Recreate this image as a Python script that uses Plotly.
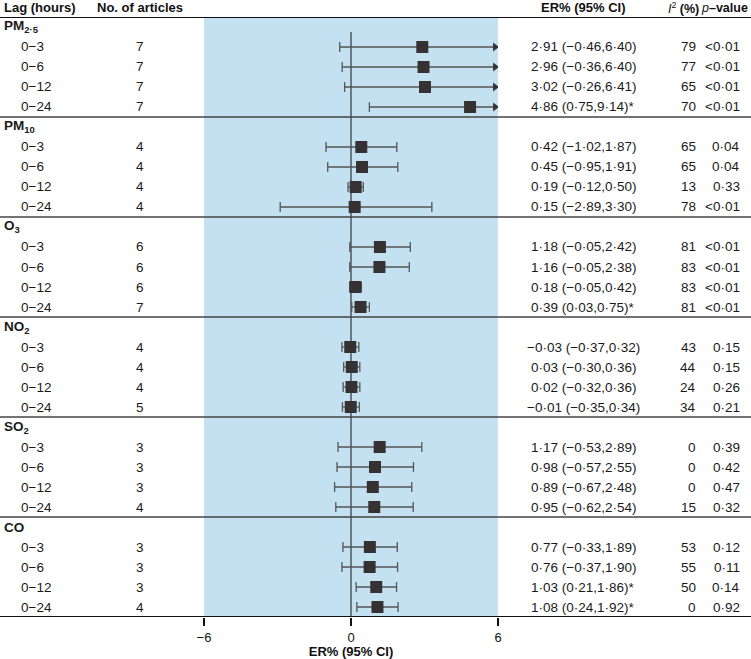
import plotly.graph_objects as go

# Data
pollutants = ['PM<sub>2·5</sub>', 'PM<sub>10</sub>', 'O<sub>3</sub>', 'NO<sub>2</sub>', 'SO<sub>2</sub>', 'CO']
lags = ['0\u22123', '0\u22126', '0\u221212', '0\u221224']

n_articles = [[7, 7, 7, 7], [4, 4, 4, 4], [6, 6, 6, 7], [4, 4, 4, 5], [3, 3, 3, 4], [3, 3, 3, 4]]
er = [[2.91, 2.96, 3.02, 4.86], [0.42, 0.45, 0.19, 0.15], [1.18, 1.16, 0.18, 0.39],
      [-0.03, 0.03, 0.02, -0.01], [1.17, 0.98, 0.89, 0.95], [0.77, 0.76, 1.03, 1.08]]
ci_low = [[-0.46, -0.36, -0.26, 0.75], [-1.02, -0.95, -0.12, -2.89], [-0.05, -0.05, -0.05, 0.03],
          [-0.37, -0.30, -0.32, -0.35], [-0.53, -0.57, -0.67, -0.62], [-0.33, -0.37, 0.21, 0.24]]
ci_high = [[6.40, 6.40, 6.41, 9.14], [1.87, 1.91, 0.50, 3.30], [2.42, 2.38, 0.42, 0.75],
           [0.32, 0.36, 0.36, 0.34], [2.89, 2.55, 2.48, 2.54], [1.89, 1.90, 1.86, 1.92]]
signif = [[0, 0, 0, 1], [0, 0, 0, 0], [0, 0, 0, 1], [0, 0, 0, 0], [0, 0, 0, 0], [0, 0, 1, 1]]
i2 = [[79, 77, 65, 70], [65, 65, 13, 78], [81, 83, 83, 81], [43, 44, 24, 34], [0, 0, 0, 15], [53, 55, 50, 0]]
pvals = [['<0·01'] * 4, ['0·04', '0·04', '0·33', '<0·01'], ['<0·01'] * 4,
         ['0·15', '0·15', '0·26', '0·21'], ['0·39', '0·42', '0·47', '0·32'], ['0·12', '0·11', '0·14', '0·92']]

XMIN, XMAX = -6, 6
W, H = 751, 659
FONT = 'Liberation Sans, Arial, sans-serif'
BLUE = '#c3e1f0'
DARK = '#363233'
LINE = '#555555'
FS = 13.5


def fmt(v):
    s = f'{abs(v):.2f}'.replace('.', '·')
    return ('\u2212' if v < 0 else '') + s


def px(x):  # paper x from pixel
    return x / W


# build row positions (row index from top, 5 rows per group)
ys, xs, los, his = [], [], [], []
annotations = []
for g, name in enumerate(pollutants):
    gy = g * 5 + 0.5
    annotations.append(dict(x=px(2), y=gy, text='<b>' + name + '</b>', xanchor='left'))
    for k in range(4):
        y = g * 5 + k + 1.5
        ys.append(y)
        xs.append(er[g][k])
        los.append(ci_low[g][k])
        his.append(ci_high[g][k])
        annotations.append(dict(x=px(19), y=y, text=lags[k], xanchor='left'))
        annotations.append(dict(x=px(140), y=y, text=str(n_articles[g][k]), xanchor='center'))
        txt = f'{fmt(er[g][k])} ({fmt(ci_low[g][k])},{fmt(ci_high[g][k])})'
        if signif[g][k]:
            txt += '*'
        annotations.append(dict(x=px(583), y=y, text=txt, xanchor='center'))
        annotations.append(dict(x=px(698), y=y, text=str(i2[g][k]), xanchor='right'))
        annotations.append(dict(x=px(742), y=y, text=pvals[g][k], xanchor='right'))

for a in annotations:
    a.update(xref='paper', yref='y', showarrow=False, yanchor='middle',
             font=dict(family=FONT, size=FS, color='#1a1a1a'))

# header
hdr_y = 1 - 8 / H
for x, t, anc, fs in [(2, '<b>Lag (hours)</b>', 'left', 13), (140, '<b>No. of articles</b>', 'center', 13),
                      (583, '<b>ER% (95% CI)</b>', 'center', 13),
                      (683, '<i>I</i><sup>2</sup> <b>(%)</b>', 'center', 12.5),
                      (750, '<i>p</i><b>\u2013value</b>', 'right', 12.5)]:
    annotations.append(dict(x=px(x), y=hdr_y, xref='paper', yref='paper', text=t, xanchor=anc,
                            yanchor='middle', showarrow=False,
                            font=dict(family=FONT, size=fs, color='#111')))

fig = go.Figure()

# CI lines (clipped at axis limits)
lx, ly = [], []
cap_x, cap_y, arr_x, arr_y = [], [], [], []
for x0, x1, y in zip(los, his, ys):
    lx += [max(x0, XMIN), min(x1, XMAX), None]
    ly += [y, y, None]
    for v in (x0, x1):
        if XMIN <= v <= XMAX:
            cap_x.append(v)
            cap_y.append(y)
    if x1 > XMAX:
        arr_x.append(XMAX - 0.12)
        arr_y.append(y)

fig.add_trace(go.Scatter(x=lx, y=ly, mode='lines', line=dict(color=LINE, width=1.3),
                         hoverinfo='skip'))
fig.add_trace(go.Scatter(x=cap_x, y=cap_y, mode='markers',
                         marker=dict(symbol='line-ns-open', size=7, color=LINE,
                                     line=dict(color=LINE, width=1.3)),
                         hoverinfo='skip'))
fig.add_trace(go.Scatter(x=arr_x, y=arr_y, mode='markers',
                         marker=dict(symbol='triangle-right', size=8, color='#333')))
fig.add_trace(go.Scatter(x=xs, y=ys, mode='markers',
                         marker=dict(symbol='square', size=12, color=DARK)))

shapes = [
    dict(type='rect', xref='x', yref='y', x0=XMIN, x1=XMAX, y0=0, y1=30,
         fillcolor=BLUE, line=dict(width=0), layer='below'),
    dict(type='line', xref='x', yref='y', x0=0, x1=0, y0=0.75, y1=30,
         line=dict(color='#333', width=1.2), layer='below'),
    dict(type='line', xref='paper', yref='y', x0=0, x1=1, y0=0, y1=0,
         line=dict(color='#111', width=2.2)),
    dict(type='line', xref='paper', yref='y', x0=0, x1=1, y0=30, y1=30,
         line=dict(color='#111', width=2.2)),
]
for g in range(1, 6):
    shapes.append(dict(type='line', xref='paper', yref='y', x0=0, x1=1, y0=g * 5, y1=g * 5,
                       line=dict(color='#444', width=1.5)))

fig.update_layout(
    width=W, height=H,
    margin=dict(l=0, r=0, t=0, b=0, autoexpand=False),
    paper_bgcolor='white', plot_bgcolor='white',
    showlegend=False,
    shapes=shapes,
    annotations=annotations,
    font=dict(family=FONT, size=FS, color='#111'),
    xaxis=dict(domain=[px(204), px(498)], range=[XMIN, XMAX], showgrid=False, zeroline=False,
               tickvals=[-6, 0, 6], ticktext=['\u22126', '0', '6'], ticks='outside', ticklen=8,
               tickwidth=1.5, tickcolor='#111', showline=False,
               tickfont=dict(family=FONT, size=13),
               title=dict(text='<b>ER% (95% CI)</b>', font=dict(family=FONT, size=13), standoff=2)),
    yaxis=dict(domain=[(H - 617) / H, (H - 17) / H], range=[30, 0], showgrid=False, zeroline=False,
               showticklabels=False, showline=False),
)

fig.write_html("out.html", config={'displayModeBar': False},
               post_script="document.body.style.margin='0';")
